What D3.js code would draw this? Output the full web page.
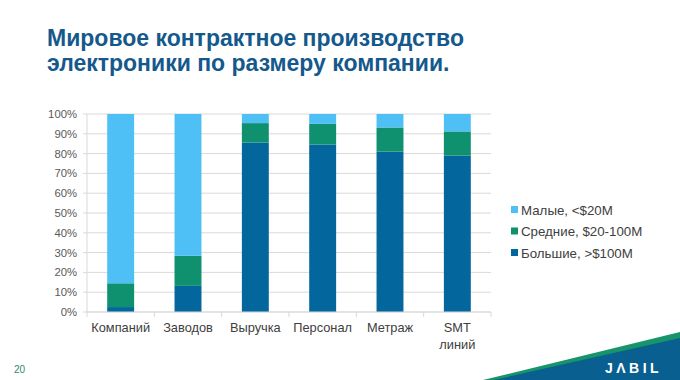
<!DOCTYPE html>
<html><head><meta charset="utf-8">
<script src="https://cdn.jsdelivr.net/npm/d3@7"></script>
<style>body{margin:0;background:#fff}svg{display:block}</style>
</head><body>
<svg id="c" width="680" height="380"></svg>
<script>
const categories = ["Компаний", "Заводов", "Выручка", "Персонал", "Метраж", "SMT линий"];
const seriesNames = ["Большие, >$100M", "Средние, $20-100M", "Малые, <$20M"];
const large = [2.5, 13.2, 85.6, 84.6, 81.0, 79.0];
const medium = [12.0, 15.2, 9.8, 10.4, 12.2, 12.2];
const small = [85.5, 71.6, 4.6, 5.0, 6.8, 8.8];
const yTicks = [0, 10, 20, 30, 40, 50, 60, 70, 80, 90, 100];
const colors = ["#03679e", "#0f9170", "#4fc0f5"];

(function() {
const svg = d3.select("#c");
const font = "Liberation Sans, Arial, sans-serif";

// Title
svg.append("text").attr("x", 47).attr("y", 46).attr("font-family", font).attr("font-weight", "bold")
  .attr("font-size", 23).attr("fill", "#15598c").text("Мировое контрактное производство");
svg.append("text").attr("x", 47).attr("y", 71).attr("font-family", font).attr("font-weight", "bold")
  .attr("font-size", 23).attr("fill", "#15598c").text("электроники по размеру компании.");

const pL = 87, pR = 491, pT = 114, pB = 312;
const x = d3.scaleBand().domain(categories).range([pL, pR]).paddingInner(0.6).paddingOuter(0.3);
const y = d3.scaleLinear().domain([0, 100]).range([pB, pT]);

// grid
svg.append("g").selectAll("line").data(yTicks).join("line")
  .attr("x1", pL - 4).attr("x2", pR).attr("y1", d => y(d)).attr("y2", d => y(d))
  .attr("stroke", "#d9d9d9").attr("stroke-width", 1);
svg.append("line").attr("x1", pL).attr("x2", pL).attr("y1", pT).attr("y2", pB)
  .attr("stroke", "#d9d9d9");

// y labels
svg.append("g").selectAll("text").data(yTicks).join("text")
  .attr("x", pL - 10).attr("y", d => y(d) + 4).attr("text-anchor", "end")
  .attr("font-family", font).attr("font-size", 11.3).attr("fill", "#595959").text(d => d + "%");

// x ticks at boundaries
const step = (pR - pL) / categories.length;
svg.append("g").selectAll("line").data(d3.range(categories.length + 1)).join("line")
  .attr("x1", i => pL + i * step).attr("x2", i => pL + i * step)
  .attr("y1", pB).attr("y2", pB + 5).attr("stroke", "#d9d9d9");

// stacked data
const table = categories.map((c, i) => ({cat: c, s0: large[i], s1: medium[i], s2: small[i]}));
const stack = d3.stack().keys(["s0", "s1", "s2"])(table);
svg.append("g").selectAll("g").data(stack).join("g").attr("fill", (d, i) => colors[i])
  .selectAll("rect").data(d => d).join("rect")
  .attr("x", d => x(d.data.cat)).attr("width", x.bandwidth())
  .attr("y", d => y(Math.min(d[1], 100))).attr("height", d => y(d[0]) - y(Math.min(d[1], 100)));

// x axis baseline
svg.append("line").attr("x1", pL).attr("x2", pR).attr("y1", pB).attr("y2", pB).attr("stroke", "#d9d9d9");

// x labels
const xl = svg.append("g").selectAll("text").data(categories).join("text")
  .attr("x", d => x(d) + x.bandwidth() / 2).attr("y", 332).attr("text-anchor", "middle")
  .attr("font-family", font).attr("font-size", 12.8).attr("fill", "#404040");
xl.each(function(d) {
  const parts = d === "SMT линий" ? ["SMT", "линий"] : [d];
  const t = d3.select(this);
  parts.forEach((p, j) => t.append("tspan").attr("x", t.attr("x")).attr("dy", j ? 17 : 0).text(p));
});

// legend
const legOrder = [2, 1, 0];
const lg = svg.append("g").selectAll("g").data(legOrder).join("g")
  .attr("transform", (d, i) => `translate(511,${210 + i * 21.5})`);
lg.append("rect").attr("x", 0).attr("y", -4).attr("width", 7).attr("height", 7).attr("fill", d => colors[d]);
lg.append("text").attr("x", 10).attr("y", 4.5).attr("font-family", font).attr("font-size", 13.3)
  .attr("fill", "#404040").text(d => seriesNames[d]);

// page number
svg.append("text").attr("x", 14).attr("y", 373).attr("font-family", font).attr("font-size", 10)
  .attr("fill", "#2e8b6e").text("20");

// logo swoosh
svg.append("path").attr("d", "M483,380 L680,332 L680,380 Z").attr("fill", "#17946a");
svg.append("path").attr("d", "M494,380 L680,338 L680,380 Z").attr("fill", "#0a5f91");
svg.append("text").attr("x", 605).attr("y", 373).attr("font-family", font)
  .attr("font-weight", "bold").attr("font-size", 14).attr("letter-spacing", 3.5).attr("fill", "#fff").text("JΛBIL");
})();
</script>
</body></html>
